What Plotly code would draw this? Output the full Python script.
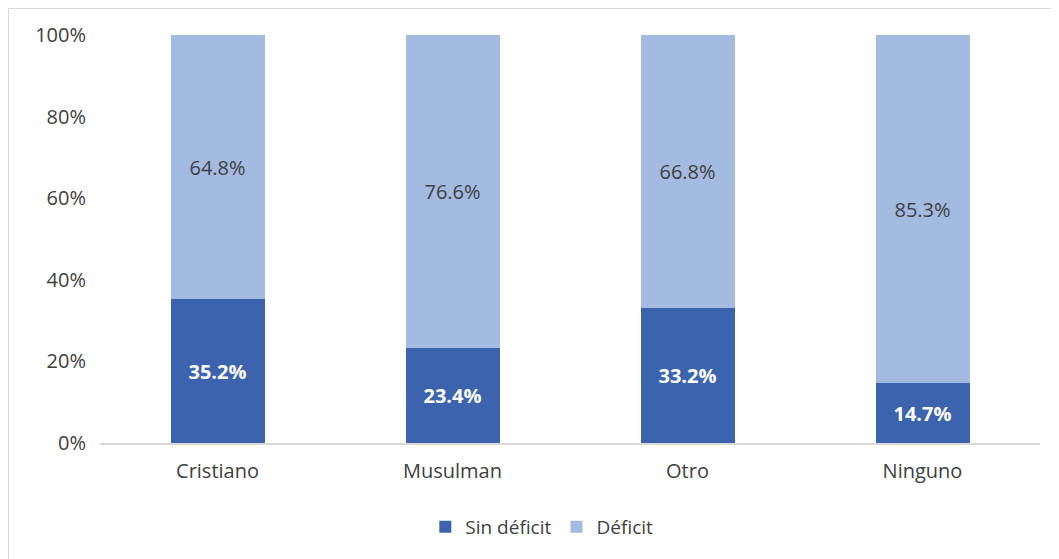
import plotly.graph_objects as go

categories = ["Cristiano", "Musulman", "Otro", "Ninguno"]
sin_deficit = [35.2, 23.4, 33.2, 14.7]
deficit = [64.8, 76.6, 66.8, 85.3]
y_ticks = [0, 20, 40, 60, 80, 100]
y_tick_labels = ["0%", "20%", "40%", "60%", "80%", "100%"]

dark = "#3C64AE"
light = "#A3BBE0"
font_family = "Open Sans, Noto Sans, DejaVu Sans, sans-serif"

W, H = 1059, 559
ML, MR, MT, MB = 92, 27, 27, 124
PW, PH = W - ML - MR, H - MT - MB

fig = go.Figure()
fig.add_trace(go.Bar(
    x=categories, y=sin_deficit, name="Sin déficit",
    marker=dict(color=dark, line=dict(width=0)),
    text=[f"{v:.1f}%" for v in sin_deficit], textposition="inside",
    insidetextanchor="middle",
    textfont=dict(color="white", size=20, family=font_family, weight="bold"),
    hoverinfo="skip",
))
fig.add_trace(go.Bar(
    x=categories, y=deficit, name="Déficit",
    marker=dict(color=light, line=dict(width=0)),
    text=[f"{v:.1f}%" for v in deficit], textposition="inside",
    insidetextanchor="middle",
    textfont=dict(color="#404040", size=21, family=font_family),
    hoverinfo="skip",
))

fig.update_layout(
    barmode="stack",
    bargap=0.6,
    width=W, height=H,
    margin=dict(l=ML, r=MR, t=MT, b=MB),
    plot_bgcolor="white", paper_bgcolor="white",
    font=dict(family=font_family, size=20, color="#404040"),
    uniformtext=dict(mode="show", minsize=10),
    showlegend=True,
    legend=dict(orientation="h", x=0.47, xanchor="center",
                y=-(519 - (MT + PH)) / PH, yanchor="middle",
                font=dict(size=19, color="#404040"), traceorder="normal",
                itemwidth=30),
    xaxis=dict(showgrid=False, showline=True, linecolor="#D9D9D9", linewidth=1.5,
               ticks="", tickfont=dict(size=20, color="#404040"), ticklabelstandoff=9),
    yaxis=dict(range=[0, 100], tickvals=y_ticks, ticktext=y_tick_labels,
               showgrid=False, zeroline=False, showline=False, ticks="",
               tickfont=dict(size=20, color="#404040"), ticklabelstandoff=13),
    shapes=[
        dict(type="line", xref="paper", yref="paper",
             x0=(-ML + 0.5) / PW, x1=(-ML + 0.5) / PW,
             y0=-MB / PH, y1=1 + (MT - 0.5) / PH,
             line=dict(color="#D9D9D9", width=1)),
        dict(type="line", xref="paper", yref="paper",
             x0=(-ML + 0.5) / PW, x1=1 + MR / PW,
             y0=1 + (MT - 0.5) / PH, y1=1 + (MT - 0.5) / PH,
             line=dict(color="#D9D9D9", width=1)),
    ],
)

fig.write_html("out.html")
